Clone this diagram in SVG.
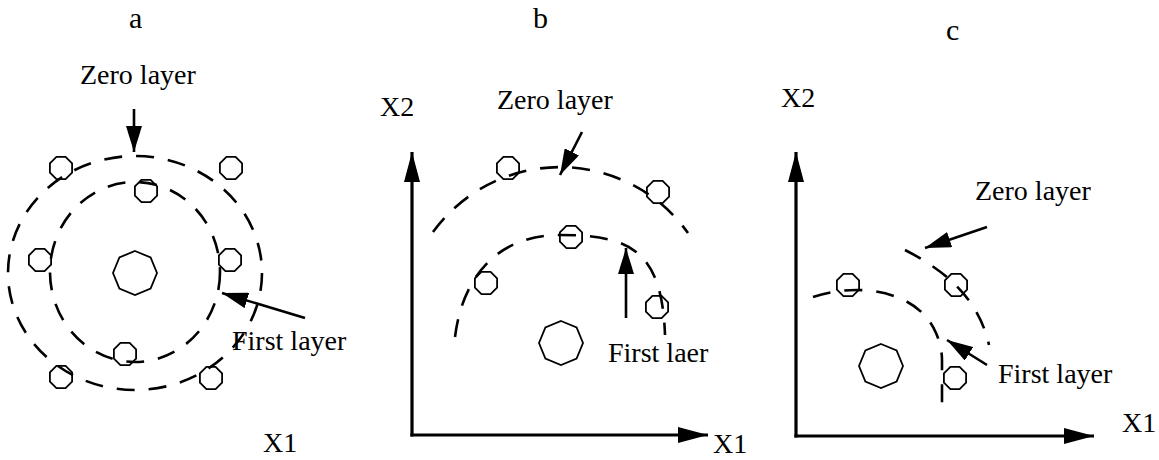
<svg xmlns="http://www.w3.org/2000/svg" width="1159" height="460" viewBox="0 0 1159 460">
<style>
text{font-family:"Liberation Serif","Times New Roman",serif;font-size:28px;fill:#000}
.t{font-size:30px}
.d{fill:none;stroke:#000;stroke-width:2.6;stroke-dasharray:18 14}
.oct{fill:none;stroke:#000;stroke-width:1.8}
.ar{fill:none;stroke:#000;stroke-width:2.6}
.ax{fill:none;stroke:#000;stroke-width:3.2}
</style>
<defs>
<polygon id="s" points="4.6,-11.1 11.1,-4.6 11.1,4.6 4.6,11.1 -4.6,11.1 -11.1,4.6 -11.1,-4.6 -4.6,-11.1"/>
<polygon id="L" points="0,-22 15.6,-15.6 22,0 15.6,15.6 0,22 -15.6,15.6 -22,0 -15.6,-15.6"/>
<marker id="ah" markerUnits="userSpaceOnUse" markerWidth="26" markerHeight="16" viewBox="0 0 26 16" refX="26" refY="8" orient="auto"><path d="M0,0 L26,8 L0,16 z" fill="#000"/></marker>
<marker id="axh" markerUnits="userSpaceOnUse" markerWidth="30" markerHeight="16" viewBox="0 0 30 16" refX="30" refY="8" orient="auto"><path d="M0,0 L30,8 L0,16 z" fill="#000"/></marker>
</defs>

<g id="labels">
<text class="t" x="129" y="28">a</text>
<text class="t" x="533" y="28">b</text>
<text class="t" x="946" y="40">c</text>
</g>

<!-- Panel a -->
<g id="panel-a">
<g id="a-layers">
<ellipse class="d" cx="135" cy="273" rx="127" ry="117"/>
<ellipse class="d" cx="135" cy="272" rx="85" ry="90"/>
</g>
<g id="a-center"><use href="#L" class="oct" x="135" y="273"/></g>
<g id="a-points">
<use href="#s" class="oct" x="61" y="168"/>
<use href="#s" class="oct" x="231" y="168"/>
<use href="#s" class="oct" x="146" y="191"/>
<use href="#s" class="oct" x="40" y="260"/>
<use href="#s" class="oct" x="230" y="260"/>
<use href="#s" class="oct" x="125" y="354"/>
<use href="#s" class="oct" x="61" y="377"/>
<use href="#s" class="oct" x="211" y="378"/>
</g>
<g id="a-text">
<text x="80" y="84">Zero layer</text>
<text x="232" y="350">First layer</text>
<text x="263" y="452">X1</text>
</g>
</g>

<!-- Panel b -->
<g id="panel-b">
<g id="b-layers">
<path class="d" d="M433,232 A157,157 0 0 1 688,233"/>
<path class="d" d="M455,337 C462,280 495,235 560,235 C630,235 662,250 665,335"/>
</g>
<g id="b-center"><use href="#L" class="oct" x="561" y="343"/></g>
<g id="b-points">
<use href="#s" class="oct" x="508" y="168"/>
<use href="#s" class="oct" x="658" y="192"/>
<use href="#s" class="oct" x="571" y="237"/>
<use href="#s" class="oct" x="486" y="283"/>
<use href="#s" class="oct" x="657" y="307"/>
</g>
<g id="b-text">
<text x="380" y="116">X2</text>
<text x="497" y="109">Zero layer</text>
<text x="608" y="362">First laer</text>
<text x="713" y="453">X1</text>
</g>
</g>

<!-- Panel c -->
<g id="panel-c">
<g id="c-layers">
<path class="d" d="M905,250 C940,268 978,295 989,345"/>
<path class="d" d="M813,297 C858,282 918,290 936,333 C940,342 942,352 942,360 L942,408"/>
</g>
<g id="c-center"><use href="#L" class="oct" x="881" y="366"/></g>
<g id="c-points">
<use href="#s" class="oct" x="848" y="285"/>
<use href="#s" class="oct" x="956" y="285"/>
<use href="#s" class="oct" x="955" y="378"/>
</g>
<g id="c-text">
<text x="781" y="107">X2</text>
<text x="975" y="200">Zero layer</text>
<text x="998" y="383">First layer</text>
<text x="1122" y="432">X1</text>
</g>
</g>

<g id="connectors">
<line class="ar" x1="134" y1="109" x2="134" y2="152" stroke-width="3.5" marker-end="url(#ah)"/>
<line class="ar" x1="305" y1="318" x2="222" y2="293" marker-end="url(#ah)"/>
<line class="ar" x1="582" y1="132" x2="560" y2="175" marker-end="url(#ah)"/>
<line class="ar" x1="626" y1="318" x2="626" y2="248" marker-end="url(#ah)"/>
<line class="ar" x1="987" y1="227" x2="925" y2="248" marker-end="url(#ah)"/>
<line class="ar" x1="987" y1="365" x2="947" y2="340" marker-end="url(#ah)"/>
<line class="ax" x1="412" y1="436.6" x2="412" y2="152" marker-end="url(#axh)"/>
<line class="ax" x1="410.4" y1="435" x2="708" y2="435" marker-end="url(#axh)"/>
<line class="ax" x1="796" y1="437.6" x2="796" y2="152" marker-end="url(#axh)"/>
<line class="ax" x1="794.4" y1="436" x2="1094" y2="436" marker-end="url(#axh)"/>
</g>
</svg>
